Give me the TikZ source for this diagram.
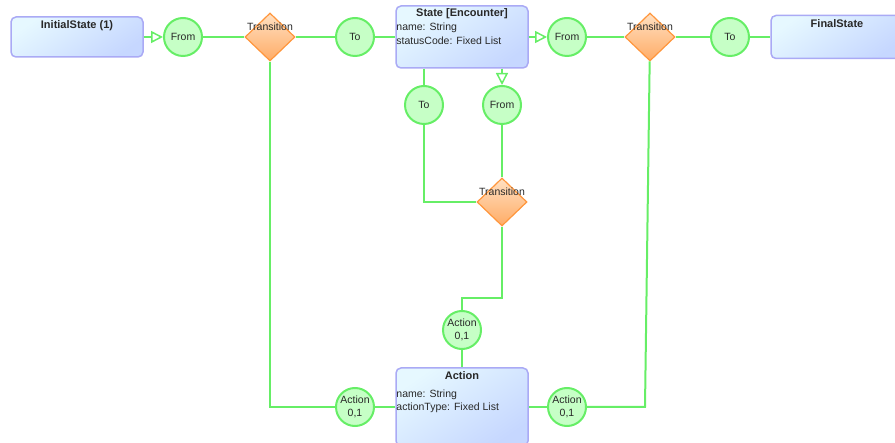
\documentclass[tikz,border=0pt]{standalone}
\usepackage{fontspec}
\setmainfont{Liberation Sans}
\usepackage{tikz}
\usetikzlibrary{shapes.geometric}
\usetikzlibrary{arrows.meta}

\definecolor{linkgreen}{RGB}{102,238,102}
\definecolor{rolefill}{RGB}{198,255,198}
\definecolor{boxline}{RGB}{170,170,245}
\definecolor{boxtop}{RGB}{230,248,255}
\definecolor{boxbot}{RGB}{198,215,255}
\definecolor{transline}{RGB}{255,150,60}
\definecolor{transtop}{RGB}{255,224,194}
\definecolor{transbot}{RGB}{255,172,102}
\definecolor{inkgray}{RGB}{40,40,40}

\tikzset{
  link/.style={draw=linkgreen, line width=2pt},
  opentip/.style={-{Triangle[open,length=12pt,width=12pt,line width=1.5pt]}},
  role/.style={circle, draw=linkgreen, fill=rolefill, line width=2pt,
    minimum size=38pt, inner sep=0pt, align=center},
  entity/.style={rectangle, rounded corners=5pt, draw=boxline, line width=1.5pt,
    top color=boxtop, bottom color=boxbot, shading angle=35,
    minimum width=132pt, inner sep=0pt},
  trans/.style={diamond, aspect=1, draw=transline, line width=1.2pt,
    top color=transtop, bottom color=transbot, minimum width=50pt,
    minimum height=48pt, inner sep=0pt},
  title/.style={font=\fontsize{11}{13}\selectfont\bfseries, inner sep=1pt, anchor=north},
  attr/.style={align=left, inner sep=1pt, anchor=north west}
}

\begin{document}
\begin{tikzpicture}[x=1pt,y=-1pt, font=\fontsize{10.5}{13}\selectfont, text=inkgray]
\useasboundingbox (0,0) rectangle (895,443);

%% entities
\node[entity, minimum height=40pt] (init) at (77,37) {};
\node[entity, minimum height=62pt] (state) at (462,37) {};
\node[entity, minimum height=43pt] (final) at (837,37) {};
\node[entity, minimum height=78pt] (action) at (462,407) {};

%% transitions
\node[trans] (tr1) at (270,37) {};
\node[trans] (tr2) at (650,37) {};
\node[trans] (tr3) at (502,202) {};

%% roles
\node[role] (from1) at (183,37) {From};
\node[role] (to1) at (355,37) {To};
\node[role] (from2) at (567,37) {From};
\node[role] (to2) at (730,37) {To};
\node[role] (to3) at (424,105) {To};
\node[role] (from3) at (502,105) {From};
\node[role] (act1) at (462,330) {Action\\0,1};
\node[role] (act2) at (355,407) {Action\\0,1};
\node[role] (act3) at (567,407) {Action\\0,1};

\coordinate (bend1) at (502,298);
\coordinate (bend2) at (645,407);

\draw[link, opentip] (init) -- (from1);
\draw[link] (from1) -- (tr1);
\draw[link] (tr1) -- (to1);
\draw[link] (to1) -- (state);
\draw[link, opentip] (state) -- (from2);
\draw[link] (from2) -- (tr2);
\draw[link] (tr2) -- (to2);
\draw[link] (to2) -- (final);
\draw[link] (to3 |- state.south) -- (to3);
\draw[link, opentip] (from3 |- state.south) -- (from3);
\draw[link] (to3) |- (tr3);
\draw[link] (from3) -- (tr3);
\draw[link] (tr3) -- (bend1) -| (act1);
\draw[link] (act1) -- (action);
\draw[link] (act2) -- (action);
\draw[link] (act2) -| (tr1);
\draw[link] (act3) -- (action);
\draw[link] (act3) -- (bend2) -- (tr2);

\node at ([yshift=10pt]tr1.center) {Transition};
\node at ([yshift=10pt]tr2.center) {Transition};
\node at ([yshift=10pt]tr3.center) {Transition};

\node[title] at ([yshift=-3.5pt]init.north) {InitialState (1)};
\node[title] at ([yshift=-3.5pt]final.north) {FinalState};
\node[title] at ([yshift=-2.5pt]state.north) {State [Encounter]};
\node[attr, font=\fontsize{10.5}{14}\selectfont] at ([yshift=-16pt]state.north west) {name: String\\statusCode: Fixed List};
\node[title] at ([yshift=-3.5pt]action.north) {Action};
\node[attr, font=\fontsize{10.5}{13.5}\selectfont] at ([yshift=-21pt]action.north west) {name: String\\actionType: Fixed List};
\end{tikzpicture}
\end{document}
